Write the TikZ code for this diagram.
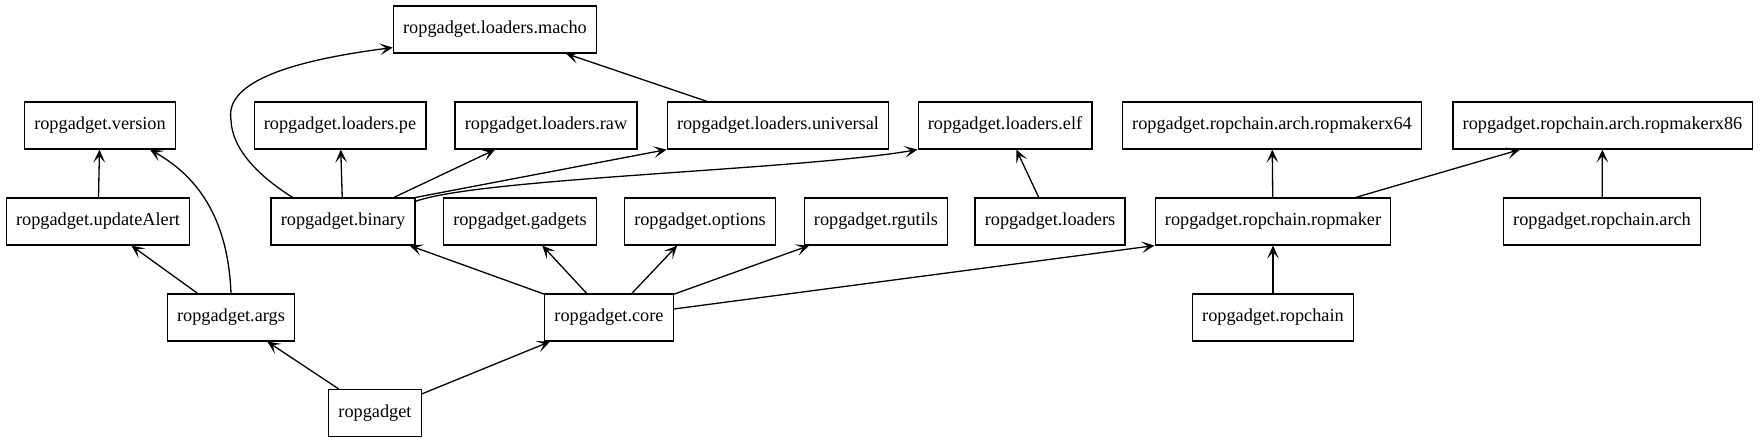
\documentclass[tikz,border=0pt]{standalone}
\usepackage{fontspec}
\setmainfont{Liberation Serif}
\usepackage{tikz}
\usetikzlibrary{arrows.meta}
\tikzstyle{module}=[rectangle, minimum height=36pt, inner xsep=7.5pt, text centered, draw=black, line width=0.9pt, font=\fontsize{14}{16}\selectfont]
\tikzstyle{arrow} = [line width=1pt, -{Stealth[length=10pt,width=9pt,inset=5pt]}]

\begin{document}
\begin{tikzpicture} [x=0.766pt, y=-0.766pt]
			\useasboundingbox (0,0) rectangle (1763,443);
			
			\node (loaders macho) [module] at (495,29.5) {ropgadget.loaders.macho};
			
			\node (version) [module] at (100,125.5) {ropgadget.version};
			\node (loaders pe) [module] at (340,125.5) {ropgadget.loaders.pe};
			\node (loaders raw) [module] at (546,125.5) {ropgadget.loaders.raw};
			\node (loaders universal) [module] at (778,125.5) {ropgadget.loaders.universal};
			\node (loaders elf) [module] at (1005,125.5) {ropgadget.loaders.elf};
			\node (ropmakerx64) [module] at (1272,125.5) {ropgadget.ropchain.arch.ropmakerx64};
			\node (ropmakerx86) [module] at (1602.5,125.5) {ropgadget.ropchain.arch.ropmakerx86};
			
			\node (updateAlert) [module] at (98,221.5) {ropgadget.updateAlert};
			\node (binary) [module] at (343,221.5) {ropgadget.binary};
			\node (gadgets) [module] at (520,221.5) {ropgadget.gadgets};
			\node (options) [module] at (700,221.5) {ropgadget.options};
			\node (rgutils) [module] at (876,221.5) {ropgadget.rgutils};
			\node (loaders) [module] at (1050,221.5) {ropgadget.loaders};
			\node (ropmaker) [module] at (1273,221.5) {ropgadget.ropchain.ropmaker};
			\node (ropchain arch) [module] at (1602,221.5) {ropgadget.ropchain.arch};
			
			\node (args) [module] at (231,317.5) {ropgadget.args};
			\node (core) [module] at (609,317.5) {ropgadget.core};
			\node (ropchain) [module] at (1273,317.5) {ropgadget.ropchain};
			
			\node (ropgadget) [module] at (375,413) {ropgadget};
			
			\coordinate (macho bend) at (231,120);
			
			\draw [arrow] (ropgadget) -- (args);
			\draw [arrow] (ropgadget) -- (core);
			\draw [arrow] (args) -- (updateAlert);
			\draw [arrow] (args.north) .. controls (228,215) and (195,175) .. ([xshift=-20pt]version.south east);
			\draw [arrow] (updateAlert) -- (version);
			\draw [arrow] ([xshift=17pt]binary.north west) .. controls (260,177) and (232,150) .. (macho bend) .. controls (225,85) and (280,62) .. ([yshift=4.6pt]loaders macho.south west);
			\draw [arrow] (binary) -- (loaders pe);
			\draw [arrow] (binary) -- (loaders raw);
			\draw [arrow] (binary.north east) -- (loaders universal.south west);
			\draw [arrow] ([yshift=-3pt]binary.north east) .. controls (480,178) and (800,170) .. (loaders elf.south west);
			\draw [arrow] (loaders universal) -- (loaders macho);
			\draw [arrow] (core) -- (binary);
			\draw [arrow] (core) -- (gadgets);
			\draw [arrow] (core) -- (options);
			\draw [arrow] (core) -- (rgutils);
			\draw [arrow] (core) -- (ropmaker.south west);
			\draw [arrow] (loaders) -- (loaders elf);
			\draw [arrow] (ropmaker) -- (ropmakerx64);
			\draw [arrow] (ropmaker) -- (ropmakerx86);
			\draw [arrow] (ropchain) -- (ropmaker);
			\draw [arrow] (ropchain arch) -- (ropmakerx86);
			
\end{tikzpicture}
\end{document}
